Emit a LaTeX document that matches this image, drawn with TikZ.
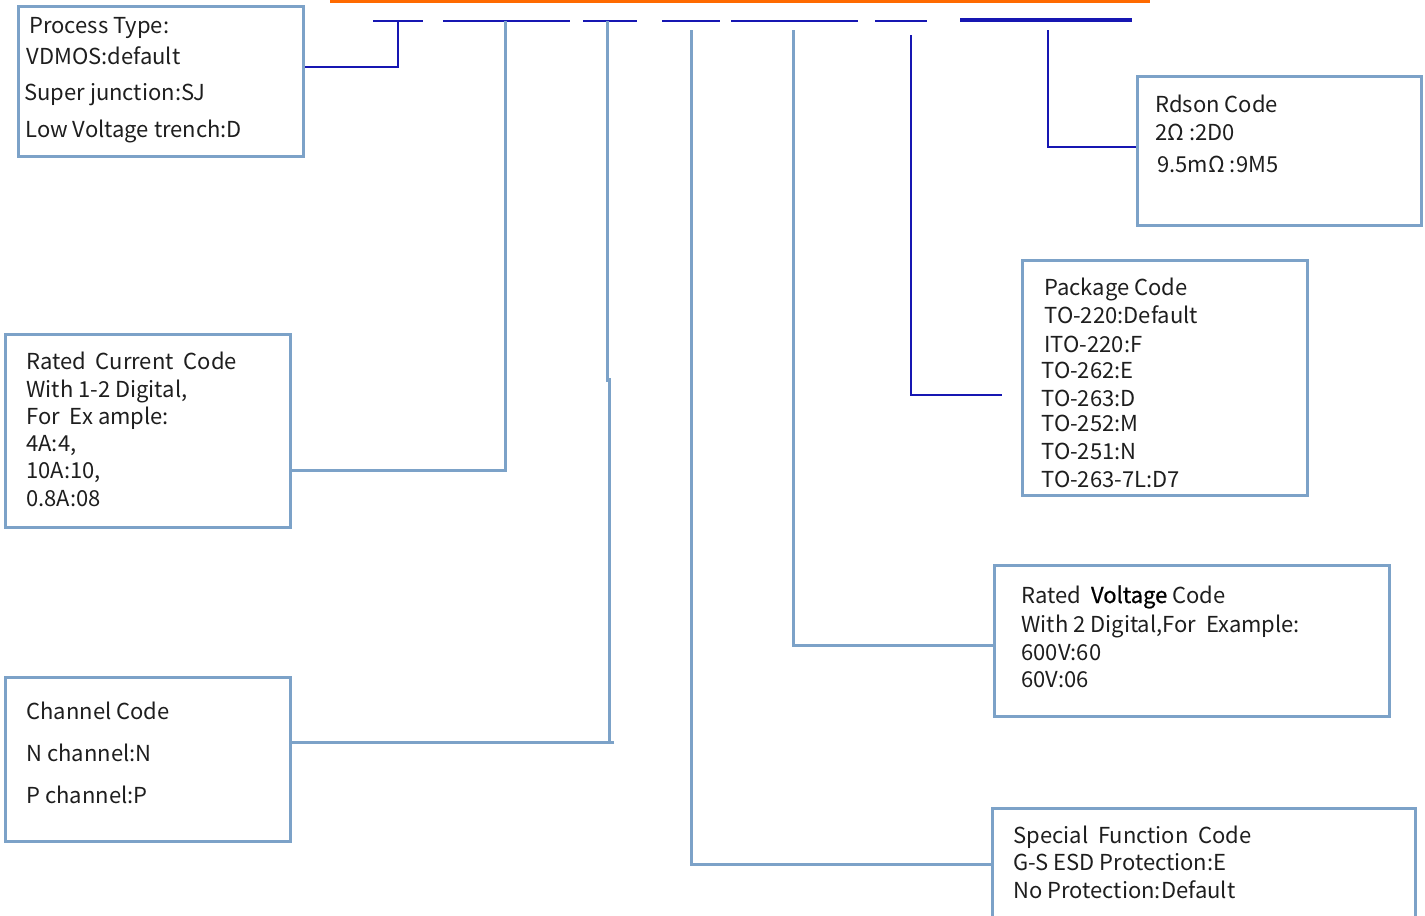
\documentclass[tikz,border=0pt]{standalone}
\usepackage{fontspec}
\setmainfont{Noto Sans CJK SC}
\newfontfamily\heavyfont[FakeBold=0.8]{Noto Sans CJK SC}
\usetikzlibrary{positioning, fit}
\definecolor{codeblue}{RGB}{22, 22, 178}
\definecolor{codesky}{RGB}{124, 162, 200}
\definecolor{codeorange}{RGB}{255, 106, 0}
\definecolor{codetext}{RGB}{30, 30, 30}

\begin{document}
\begin{tikzpicture}[
      x=0.5pt, y=-0.5pt,
      box/.style={draw=codesky, line width=1.5pt, inner sep=0pt},
      txt/.style={anchor=base west, inner sep=0pt, font=\fontsize{11}{13}\selectfont, text=codetext},
      dk/.style={codeblue, line width=1.3pt},
      lt/.style={codesky, line width=1.5pt}
    ]
      \useasboundingbox (0,0) rectangle (1425,916);

      % part number bar
      \draw[codeorange, line width=1.5pt] (330,1.3) -- (1150,1.3);
      \foreach \a/\b in {373/423, 443/570, 583/637, 662/720, 731/858, 875/927} {
        \draw[dk] (\a,21) -- (\b,21);
      }
      \draw[dk, line width=2pt] (960,20) -- (1132,20);

      % Process type
      \node[box, fit={(18,6) (303,156)}] (ptype) {};
      \foreach \y/\x/\t [count=\i] in {33/29/{Process Type:}, 64/26/{VDMOS:default},
          100/24/{Super junction:SJ}, 137/25/{Low Voltage trench:D}} {
        \node[txt] (pt\i) at (\x,\y) {\t};
      }

      % Rated current
      \node[box, fit={(5,334) (290,527)}] (cur) {};
      \foreach \y/\t [count=\i] in {369/{Rated~ Current~ Code}, 397/{With 1-2 Digital,},
          424/{For~ Ex ample:}, 451/{4A:4,}, 478/{10A:10,}, 506/{0.8A:08}} {
        \node[txt] (rc\i) at (26,\y) {\t};
      }

      % Channel
      \node[box, fit={(5,677) (290,841)}] (chan) {};
      \foreach \y/\t [count=\i] in {719/{Channel Code}, 761/{N channel:N}, 803/{P channel:P}} {
        \node[txt] (ch\i) at (26,\y) {\t};
      }

      % Rdson
      \node[box, fit={(1137,76) (1421,225)}] (rdson) {};
      \node[txt] (rd1) at (1155,112) {Rdson Code};
      \node[txt] (rd2) at (1155,140) {2Ω :2D0};
      \node[txt] (rd3) at (1157,172) {9.5mΩ :9M5};

      % Package
      \node[box, fit={(1022,260) (1307,495)}] (pkg) {};
      \foreach \y/\x/\t [count=\i] in {295/1044/{Package Code}, 323/1044/{TO-220:Default},
          352/1044/{ITO-220:F}, 378/1041/{TO-262:E}, 406/1041/{TO-263:D},
          431/1041/{TO-252:M}, 459/1041/{TO-251:N}, 487/1041/{TO-263-7L:D7}} {
        \node[txt] (pk\i) at (\x,\y) {\t};
      }

      % Rated voltage
      \node[box, fit={(994,565) (1389,716)}] (volt) {};
      \foreach \y/\t [count=\i] in {603/{Rated~ {\heavyfont\color{black}Voltage} Code}, 632/{With 2 Digital,For~ Example:},
          660/{600V:60}, 687/{60V:06}} {
        \node[txt] (rv\i) at (1021,\y) {\t};
      }

      % Special function
      \node[box, fit={(992,808) (1415,930)}] (spec) {};
      \foreach \y/\t [count=\i] in {843/{Special~ Function~ Code}, 870/{G-S ESD Protection:E},
          898/{No Protection:Default}} {
        \node[txt] (sf\i) at (1013,\y) {\t};
      }

      % connectors
      \coordinate (k1) at (398,67);
      \draw[dk] (398,21) -- (k1) -- (k1 -| ptype.east);

      \coordinate (k2) at (505,470);
      \draw[lt] (505,21) -- (k2) -- (k2 -| cur.east);

      \coordinate (k3) at (614,742);
      \draw[lt] (607,21) -- (607,382);
      \draw[lt] (609,378) -- (609,742);
      \draw[lt] (k3) -- (k3 -| chan.east);

      \coordinate (k4) at (691,864);
      \draw[lt] (691,30) -- (k4) -- (k4 -| spec.west);

      \coordinate (k5) at (793,645);
      \draw[lt] (793,30) -- (k5) -- (k5 -| volt.west);

      \coordinate (k6) at (911,395);
      \coordinate (k6e) at (1002,395);
      \draw[dk] (911,35) -- (k6) -- (k6e);

      \coordinate (k7) at (1048,147);
      \draw[dk] (1048,30) -- (k7) -- (k7 -| rdson.west);
    \end{tikzpicture}
\end{document}
